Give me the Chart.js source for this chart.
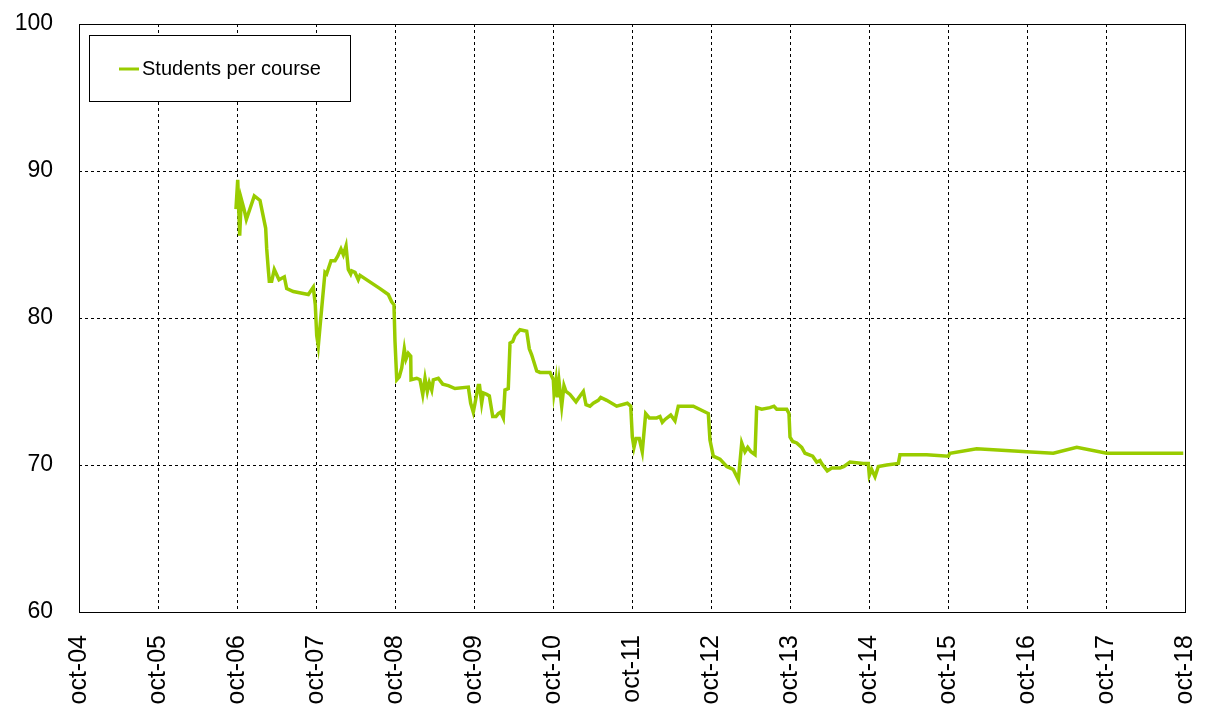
<!DOCTYPE html>
<html>
<head>
<meta charset="utf-8">
<script src="https://cdn.jsdelivr.net/npm/chart.js@4"></script>
<style>
    html, body { margin: 0; padding: 0; background: #fff; }
    #wrap { width: 1231px; height: 719px; }
</style>
</head>
<body>
<div id="wrap"><canvas id="chart" width="1231" height="719"></canvas></div>
<script>
    "use strict";

    // x = school year index, 4 = oct-04 ... 18 = oct-18
    const tickLabels = ["oct-04", "oct-05", "oct-06", "oct-07", "oct-08", "oct-09", "oct-10",
        "oct-11", "oct-12", "oct-13", "oct-14", "oct-15", "oct-16", "oct-17", "oct-18"];

    const seriesLabel = "Students per course";

    const dates = [
        5.987, 6.009, 6.022, 6.034, 6.054, 6.089, 6.118, 6.219, 6.291, 6.363, 6.376, 6.396, 6.409, 6.439,
        6.472, 6.532, 6.599, 6.629, 6.713, 6.903, 6.966, 6.991, 7.009, 7.029, 7.059, 7.114, 7.135, 7.190,
        7.241, 7.275, 7.316, 7.346, 7.380, 7.409, 7.439, 7.452, 7.494, 7.535, 7.557, 7.810, 7.915, 7.958,
        7.987, 8.000, 8.022, 8.054, 8.085, 8.118, 8.139, 8.168, 8.199, 8.203, 8.275, 8.316, 8.351, 8.380,
        8.409, 8.434, 8.465, 8.485, 8.548, 8.604, 8.675, 8.759, 8.928, 8.958, 8.991, 9.013, 9.054, 9.070,
        9.097, 9.118, 9.161, 9.194, 9.237, 9.278, 9.308, 9.338, 9.371, 9.392, 9.434, 9.456, 9.490, 9.519,
        9.582, 9.667, 9.700, 9.730, 9.794, 9.835, 9.962, 10.004, 10.013, 10.038, 10.054, 10.076, 10.110,
        10.139, 10.165, 10.215, 10.291, 10.342, 10.384, 10.418, 10.468, 10.510, 10.573, 10.604, 10.680,
        10.806, 10.941, 10.984, 11.004, 11.025, 11.051, 11.092, 11.130, 11.173, 11.219, 11.313, 11.354,
        11.384, 11.418, 11.490, 11.544, 11.586, 11.776, 11.966, 11.987, 12.029, 12.114, 12.199, 12.282,
        12.346, 12.389, 12.430, 12.465, 12.506, 12.557, 12.578, 12.642, 12.747, 12.797, 12.832, 12.958,
        12.987, 13.000, 13.034, 13.085, 13.148, 13.190, 13.287, 13.338, 13.380, 13.401, 13.472, 13.528,
        13.633, 13.684, 13.759, 13.928, 13.991, 14.004, 14.034, 14.076, 14.118, 14.224, 14.371, 14.392,
        14.730, 15.004, 15.025, 15.363, 15.996, 16.333, 16.630, 17.009, 17.978
    ];

    const studentsPerCourse = [
        87.4, 89.4, 87.4, 85.6, 88.1, 87.4, 86.7, 88.3, 88.0, 86.1, 84.7, 83.3, 82.5, 82.5,
        83.3, 82.6, 82.8, 82.0, 81.8, 81.6, 82.1, 80.9, 78.8, 78.1, 79.9, 83.1, 83.0, 83.9,
        83.9, 84.2, 84.7, 84.3, 84.9, 83.3, 83.0, 83.2, 83.1, 82.6, 82.9, 82.0, 81.6, 81.1,
        80.9, 78.4, 75.8, 76.0, 76.6, 77.9, 77.2, 77.6, 77.4, 75.8, 75.9, 75.8, 74.8, 75.9,
        75.0, 75.6, 75.1, 75.8, 75.9, 75.5, 75.4, 75.2, 75.3, 74.2, 73.6, 74.2, 75.4, 75.4,
        74.2, 74.9, 74.8, 74.7, 73.3, 73.3, 73.5, 73.6, 73.2, 75.1, 75.2, 78.3, 78.4, 78.8,
        79.2, 79.1, 77.9, 77.5, 76.4, 76.3, 76.3, 75.8, 74.9, 75.8, 74.6, 75.7, 74.0,
        75.4, 75.0, 74.8, 74.3, 74.7, 75.0, 74.1, 74.0, 74.2, 74.4, 74.6, 74.4,
        74.0, 74.2, 74.0, 71.9, 71.2, 71.8, 71.8, 70.9, 73.5, 73.2, 73.2, 73.3,
        72.9, 73.1, 73.4, 73.0, 74.0, 74.0, 73.5, 71.7, 70.6, 70.4, 69.9, 69.7,
        69.0, 71.5, 70.9, 71.2, 70.9, 70.7, 73.9, 73.8, 73.9, 74.0, 73.8, 73.8,
        73.5, 71.9, 71.6, 71.5, 71.2, 70.8, 70.6, 70.2, 70.3, 70.1, 69.6, 69.8,
        69.8, 69.9, 70.2, 70.1, 70.1, 69.3, 69.7, 69.2, 69.9, 70.0, 70.1, 70.7,
        70.7, 70.6, 70.8, 71.1, 70.9, 70.8, 71.2, 70.8, 70.8
    ];

    const LINE_COLOR = "#99cc00";
    const FONT = "Arial, 'Liberation Sans', sans-serif";

    const frame = {
        id: "frame",
        beforeDatasetsDraw(chart) {
            const { ctx, chartArea: a } = chart;
            ctx.save();
            ctx.strokeStyle = "#000";
            ctx.lineWidth = 1;
            ctx.setLineDash([]);
            ctx.strokeRect(Math.round(a.left) + 0.5, Math.round(a.top) + 0.5,
                Math.round(a.right - a.left), Math.round(a.bottom - a.top));
            ctx.restore();
        }
    };

    const legendBox = {
        id: "legendBox",
        afterDraw(chart) {
            const { ctx } = chart;
            const ds = chart.data.datasets[0];
            ctx.save();
            ctx.fillStyle = "#fff";
            ctx.fillRect(89.5, 35.5, 261, 66);
            ctx.strokeStyle = "#000";
            ctx.lineWidth = 1;
            ctx.strokeRect(89.5, 35.5, 261, 66);
            ctx.strokeStyle = ds.borderColor;
            ctx.lineWidth = 3;
            ctx.beginPath();
            ctx.moveTo(119, 69);
            ctx.lineTo(139, 69);
            ctx.stroke();
            ctx.fillStyle = "#000";
            ctx.font = "20px " + FONT;
            ctx.textBaseline = "middle";
            ctx.fillText(ds.label, 142, 69);
            ctx.restore();
        }
    };

    new Chart(document.getElementById("chart").getContext("2d"), {
        type: "line",
        data: {
            datasets: [{
                label: seriesLabel,
                data: dates.map((d, i) => ({ x: d, y: studentsPerCourse[i] })),
                borderColor: LINE_COLOR,
                borderWidth: 3.5,
                pointRadius: 0,
                tension: 0,
                fill: false
            }]
        },
        options: {
            responsive: false,
            animation: false,
            layout: { padding: { left: 0, top: 24, right: 46, bottom: 0 } },
            plugins: { legend: { display: false }, tooltip: { enabled: false } },
            scales: {
                x: {
                    type: "linear",
                    min: 4,
                    max: 18,
                    afterFit: scale => {
                        scale.height = 107;
                        scale.paddingLeft = 0;
                        scale.paddingRight = 0;
                    },
                    afterBuildTicks: scale => {
                        scale.ticks = tickLabels.map((_, i) => ({ value: 4 + i }));
                    },
                    ticks: {
                        minRotation: 90,
                        maxRotation: 90,
                        autoSkip: false,
                        padding: 23,
                        color: "#000",
                        font: { family: FONT, size: 25 },
                        callback: value => tickLabels[Math.round(value) - 4]
                    },
                    grid: { color: "#000", lineWidth: 1, drawTicks: false },
                    border: { display: false, dash: [3, 3] }
                },
                y: {
                    min: 60,
                    max: 100,
                    afterFit: scale => {
                        scale.width = 79;
                        scale.paddingTop = 0;
                        scale.paddingBottom = 0;
                    },
                    ticks: {
                        stepSize: 10,
                        padding: 26,
                        color: "#000",
                        font: { family: FONT, size: 23 }
                    },
                    grid: { color: "#000", lineWidth: 1, drawTicks: false },
                    border: { display: false, dash: [3, 3] }
                }
            }
        },
        plugins: [frame, legendBox]
    });
</script>
</body>
</html>
